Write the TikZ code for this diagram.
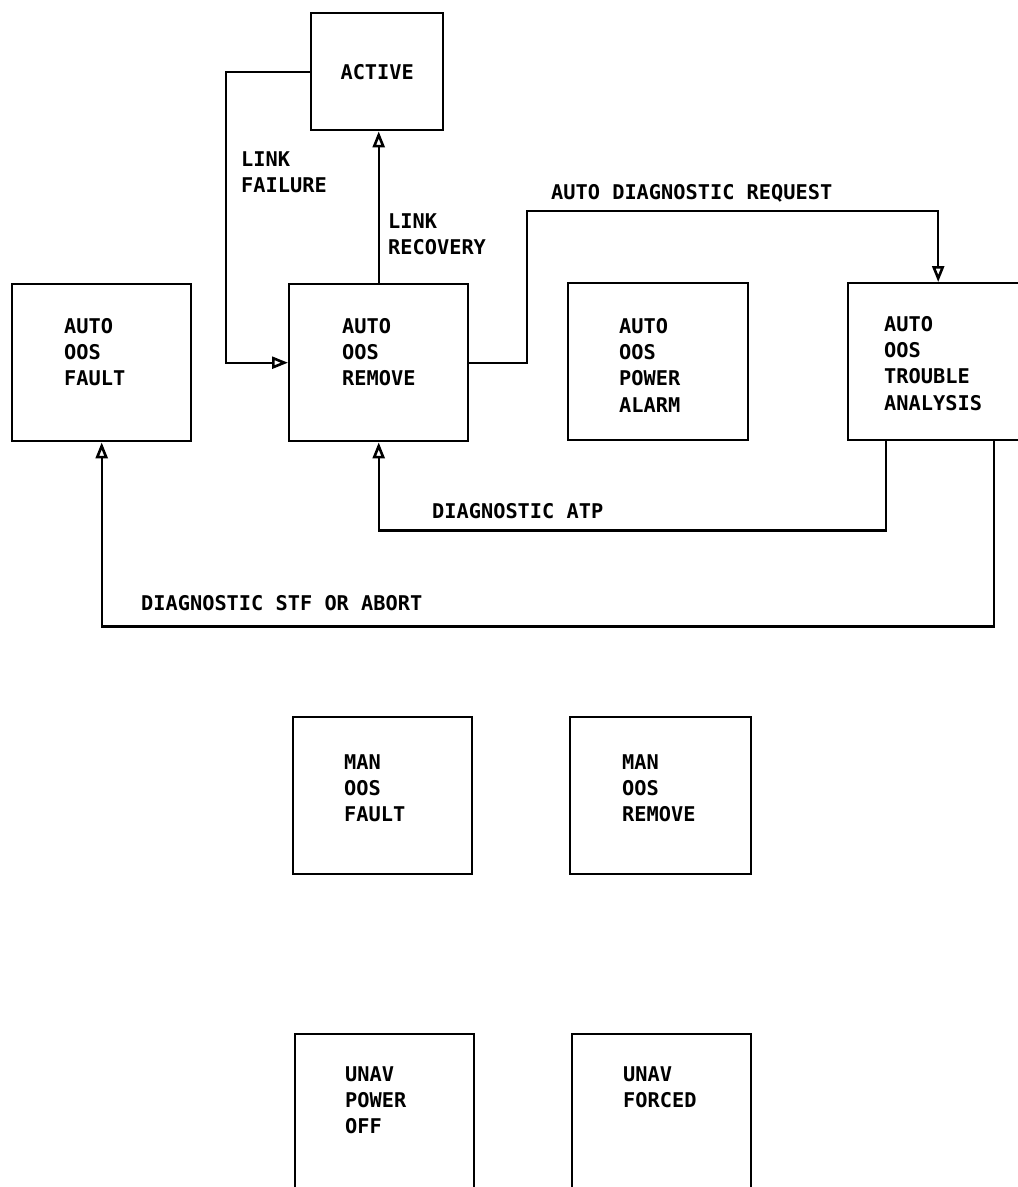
\documentclass[tikz,border=0pt]{standalone}
\usepackage{fontspec}
\newfontfamily\plotfont{DejaVu Sans Mono}
\usetikzlibrary{arrows.meta}
\begin{document}
\begin{tikzpicture}[x=1pt, y=-1pt, line width=2.4pt, lbl/.style={font=\plotfont\bfseries\fontsize{20.3}{26.3}\selectfont}, state/.style={draw, minimum width=179pt, minimum height=157pt, inner sep=0pt, anchor=north west}, txt/.style={lbl, inner sep=0pt, anchor=north west, align=left}, flow/.style={-{Triangle[open, length=16pt, width=12pt, line width=2.6pt]}}]
	\useasboundingbox (0,0) rectangle (1018,1187);
	\clip (0,0) rectangle (1018,1187);
	% states
	\node[state, lbl, minimum width=132pt, minimum height=117pt] (active) at (310,12) {ACTIVE};
	\node[state] (fault) at (11,283) {};
	\node[state] (remove) at (288,283) {};
	\node[state, minimum width=180pt] (power) at (567,282) {};
	\node[state, minimum width=180pt] (trouble) at (847,282) {};
	\node[state] (manfault) at (292,716) {};
	\node[state, minimum width=181pt] (manremove) at (569,716) {};
	\node[state, minimum height=200pt] (unavpower) at (294,1033) {};
	\node[state, minimum height=200pt] (unavforced) at (571,1033) {};
	\node[txt] (faultlbl) at ([shift={(52,34)}]fault.north west) {AUTO\\OOS\\FAULT};
	\node[txt] (removelbl) at ([shift={(53,34)}]remove.north west) {AUTO\\OOS\\REMOVE};
	\node[txt] (powerlbl) at ([shift={(51,35)}]power.north west) {AUTO\\OOS\\POWER\\ALARM};
	\node[txt] (troublelbl) at ([shift={(36,33)}]trouble.north west) {AUTO\\OOS\\TROUBLE\\ANALYSIS};
	\node[txt] (manfaultlbl) at ([shift={(51,37)}]manfault.north west) {MAN\\OOS\\FAULT};
	\node[txt] (manremovelbl) at ([shift={(52,37)}]manremove.north west) {MAN\\OOS\\REMOVE};
	\node[txt] (unavpowerlbl) at ([shift={(50,32)}]unavpower.north west) {UNAV\\POWER\\OFF};
	\node[txt] (unavforcedlbl) at ([shift={(51,32)}]unavforced.north west) {UNAV\\FORCED};
	% transitions
	\draw[flow] (active.west) -- ++(-84,0) |- (remove.west);
	\draw[flow] (remove.north) -- (remove.north |- active.south);
	\draw[flow] (remove.east) -| (527,211) -| (trouble.north);
	\draw[flow] ([xshift=-52pt]trouble.south) -- ++(0,89) -| (remove.south);
	\draw[flow] ([xshift=56pt]trouble.south) -- ++(0,185) -| (fault.south);
	\node[txt] (failurelbl) at (240,150) {LINK\\FAILURE};
	\node[txt] (recoverylbl) at (387,212) {LINK\\RECOVERY};
	\node[txt] (requestlbl) at (550,183) {AUTO DIAGNOSTIC REQUEST};
	\node[txt] (atplbl) at (431,502) {DIAGNOSTIC ATP};
	\node[txt] (stflbl) at (140,594) {DIAGNOSTIC STF OR ABORT};
\end{tikzpicture}
\end{document}
